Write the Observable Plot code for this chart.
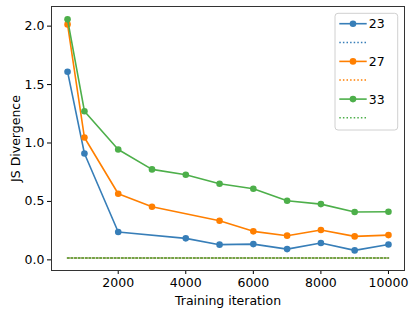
<!DOCTYPE html>
<html>
<head>
<meta charset="utf-8">
<script src="https://cdn.jsdelivr.net/npm/d3@7"></script>
<script src="https://cdn.jsdelivr.net/npm/@observablehq/plot@0.6"></script>
<style>
  html, body { margin: 0; padding: 0; background: white; }
</style>
</head>
<body>
<div id="chart"></div>
<script>
const iterations = [500, 1000, 2000, 3000, 4000, 5000, 6000, 7000, 8000, 9000, 10000];
const series = ["23", "27", "33"];
const values23 = [1.61, 0.91, 0.238, null, 0.184, 0.13, 0.135, 0.092, 0.144, 0.081, 0.132];
const values27 = [2.015, 1.047, 0.566, 0.455, null, 0.335, 0.244, 0.207, 0.255, 0.201, 0.212];
const values33 = [2.058, 1.272, 0.944, 0.774, 0.728, 0.651, 0.608, 0.506, 0.477, 0.409, 0.412];
const baselines = [0.015, 0.015, 0.015];
const colors = ["#377eb8", "#ff7f00", "#4daf4a"];
const xTicks = [2000, 4000, 6000, 8000, 10000];
const yTicks = [0, 0.5, 1.0, 1.5, 2.0];

const allValues = [values23, values27, values33];
const xExtent = d3.extent(iterations);
const FS = 12.5;

const marks = [];
series.forEach((s, i) => {
  const rows = iterations.map((x, j) => ({x, y: allValues[i][j], s})).filter(d => d.y != null);
  const base = xExtent.map(x => ({x, y: baselines[i], s}));
  marks.push(Plot.line(rows, {x: "x", y: "y", stroke: "s", strokeWidth: 1.6}));
  marks.push(Plot.dot(rows, {x: "x", y: "y", fill: "s", r: 3.3}));
  marks.push(Plot.line(base, {x: "x", y: "y", stroke: "s", strokeWidth: 1.5, strokeDasharray: "1.5,2.1"}));
});

const chart = Plot.plot({
  width: 416,
  height: 313,
  marginLeft: 51,
  marginRight: 12,
  marginTop: 6,
  marginBottom: 43,
  x: {domain: [25, 10475]},
  y: {domain: [-0.091, 2.168]},
  color: {domain: series, range: colors},
  style: {fontFamily: "DejaVu Sans", fontSize: FS + "px", color: "#000", background: "white"},
  marks: [
    Plot.axisX({ticks: xTicks, tickSize: 4, tickPadding: 3.5, fontSize: FS, tickFormat: d => String(d), label: "Training iteration", labelAnchor: "center", labelArrow: "none", labelOffset: 34}),
    Plot.axisY({ticks: yTicks, tickSize: 4, tickPadding: 3, fontSize: FS, tickFormat: d3.format(".1f"), label: "JS Divergence", labelAnchor: "center", labelArrow: "none", labelOffset: 40}),
    ...marks,
    Plot.frame({stroke: "#333", strokeWidth: 1})
  ]
});

// Legend
const svg = d3.select(chart);
const lg = svg.append("g").attr("font-family", "DejaVu Sans").attr("font-size", FS + "px");
const lx = 335, ly = 13.3, lw = 62.7, lh = 116.7;
lg.append("rect").attr("x", lx).attr("y", ly).attr("width", lw).attr("height", lh)
  .attr("rx", 3).attr("fill", "white").attr("fill-opacity", 0.8).attr("stroke", "#d0d0d0");
series.forEach((s, i) => {
  const yRow = 23.7 + i * 37.7;
  const yDot = yRow + 18.7;
  lg.append("line").attr("x1", 339.3).attr("x2", 366.7).attr("y1", yRow).attr("y2", yRow)
    .attr("stroke", colors[i]).attr("stroke-width", 1.6);
  lg.append("circle").attr("cx", 353).attr("cy", yRow).attr("r", 3.3).attr("fill", colors[i]);
  lg.append("text").attr("x", 376.7).attr("y", yRow).attr("dy", "0.36em").attr("fill", "#000").text(s);
  lg.append("line").attr("x1", 339.3).attr("x2", 366.7).attr("y1", yDot).attr("y2", yDot)
    .attr("stroke", colors[i]).attr("stroke-width", 1.5).attr("stroke-dasharray", "1.5,2.1");
});

document.getElementById("chart").appendChild(chart);
</script>
</body>
</html>
